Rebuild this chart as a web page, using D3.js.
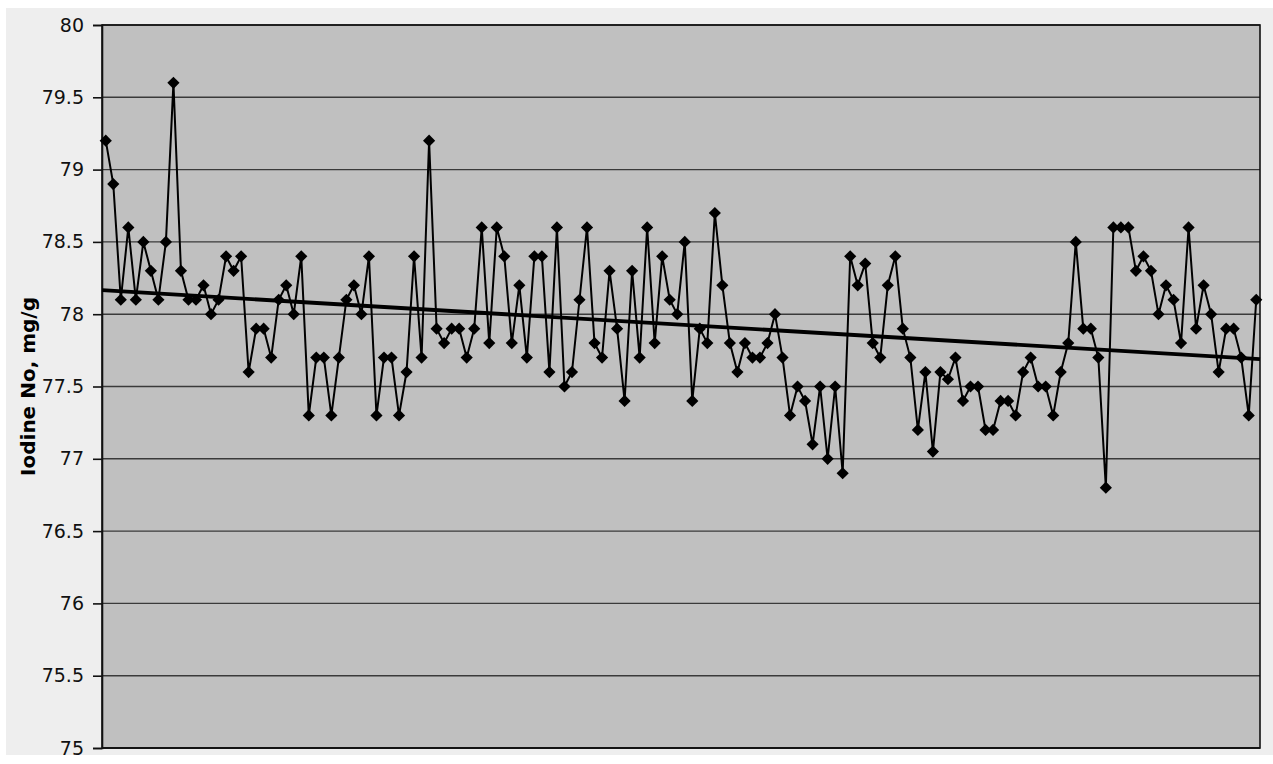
<html>
<head>
	<title>Iodine No</title>
	<meta charset="utf-8">
	<script src="https://d3js.org/d3.v7.min.js"></script>
	<style>
		body { margin: 0; background: #ffffff; }
	</style>
</head>
<body>
	<script type="text/javascript">
		// iodine number of each sample (154 samples)
		var values = [
			79.2, 78.9, 78.1, 78.6, 78.1, 78.5, 78.3, 78.1, 78.5, 79.6,
			78.3, 78.1, 78.1, 78.2, 78.0, 78.1, 78.4, 78.3, 78.4, 77.6,
			77.9, 77.9, 77.7, 78.1, 78.2, 78.0, 78.4, 77.3, 77.7, 77.7,
			77.3, 77.7, 78.1, 78.2, 78.0, 78.4, 77.3, 77.7, 77.7, 77.3,
			77.6, 78.4, 77.7, 79.2, 77.9, 77.8, 77.9, 77.9, 77.7, 77.9,
			78.6, 77.8, 78.6, 78.4, 77.8, 78.2, 77.7, 78.4, 78.4, 77.6,
			78.6, 77.5, 77.6, 78.1, 78.6, 77.8, 77.7, 78.3, 77.9, 77.4,
			78.3, 77.7, 78.6, 77.8, 78.4, 78.1, 78.0, 78.5, 77.4, 77.9,
			77.8, 78.7, 78.2, 77.8, 77.6, 77.8, 77.7, 77.7, 77.8, 78.0,
			77.7, 77.3, 77.5, 77.4, 77.1, 77.5, 77.0, 77.5, 76.9, 78.4,
			78.2, 78.35, 77.8, 77.7, 78.2, 78.4, 77.9, 77.7, 77.2, 77.6,
			77.05, 77.6, 77.55, 77.7, 77.4, 77.5, 77.5, 77.2, 77.2, 77.4,
			77.4, 77.3, 77.6, 77.7, 77.5, 77.5, 77.3, 77.6, 77.8, 78.5,
			77.9, 77.9, 77.7, 76.8, 78.6, 78.6, 78.6, 78.3, 78.4, 78.3,
			78.0, 78.2, 78.1, 77.8, 78.6, 77.9, 78.2, 78.0, 77.6, 77.9,
			77.9, 77.7, 77.3, 78.1
		]
		var samples = d3.range(1, values.length + 1) // sample numbers (no labels shown)
		var yTicks = [75, 75.5, 76, 76.5, 77, 77.5, 78, 78.5, 79, 79.5, 80]
		var yTitle = "Iodine No, mg/g"

		var width = 1273
		var height = 764
		var plot = {left: 102, top: 25, right: 1260, bottom: 748}

		var svg = d3.select("body").append("svg")
			.attr("width", width)
			.attr("height", height)

		// chart area background
		svg.append("rect")
			.attr("x", 6).attr("y", 8)
			.attr("width", width - 6).attr("height", 755 - 8)
			.attr("fill", "#eeeeee")

		// x: one category per sample, point in the middle of its slot
		var x = d3.scaleLinear()
			.domain([0.5, samples.length + 0.5])
			.range([plot.left, plot.right])
		var y = d3.scaleLinear()
			.domain([75, 80])
			.range([plot.bottom, plot.top])

		svg.append("rect")
			.attr("x", plot.left).attr("y", plot.top)
			.attr("width", plot.right - plot.left)
			.attr("height", plot.bottom - plot.top)
			.attr("fill", "#c0c0c0")

		// gridlines
		svg.append("g")
			.selectAll("line")
			.data(yTicks)
			.enter()
			.append("line")
			.attr("x1", plot.left).attr("x2", plot.right)
			.attr("y1", d => y(d)).attr("y2", d => y(d))
			.attr("stroke", "#3a3a3a")
			.attr("stroke-width", 1.4)

		// frame
		svg.append("rect")
			.attr("x", plot.left).attr("y", plot.top)
			.attr("width", plot.right - plot.left)
			.attr("height", plot.bottom - plot.top)
			.attr("fill", "none")
			.attr("stroke", "#111")
			.attr("stroke-width", 1.6)

		// y axis with outer ticks
		var yAxis = svg.append("g")
			.attr("transform", "translate(" + plot.left + ",0)")
			.call(d3.axisLeft(y).tickValues(yTicks).tickSize(9).tickPadding(9).tickFormat(d3.format("")))
		yAxis.select(".domain").attr("stroke", "#111").attr("stroke-width", 1.6)
		yAxis.selectAll(".tick line").attr("stroke", "#111").attr("stroke-width", 1.6)
		yAxis.selectAll("text")
			.attr("font-family", "DejaVu Sans, Verdana, sans-serif")
			.attr("font-size", 19)
			.attr("fill", "#111")

		// bottom axis line
		svg.append("line")
			.attr("x1", plot.left).attr("x2", plot.right)
			.attr("y1", plot.bottom).attr("y2", plot.bottom)
			.attr("stroke", "#111").attr("stroke-width", 1.6)

		// axis title
		svg.append("text")
			.attr("transform", "translate(35," + ((plot.top + plot.bottom) / 2) + ") rotate(-90)")
			.attr("text-anchor", "middle")
			.attr("font-family", "DejaVu Sans, Verdana, sans-serif")
			.attr("font-weight", "bold")
			.attr("font-size", 20)
			.attr("fill", "#000")
			.text(yTitle)

		// series line
		var line = d3.line()
			.x((d, i) => x(samples[i]))
			.y(d => y(d))
		svg.append("path")
			.datum(values)
			.attr("d", line)
			.attr("fill", "none")
			.attr("stroke", "#000")
			.attr("stroke-width", 2)

		// linear trendline (least squares), drawn across the whole plot
		var mx = d3.mean(samples), my = d3.mean(values)
		var sxy = d3.sum(samples, (s, i) => (s - mx) * (values[i] - my))
		var sxx = d3.sum(samples, s => (s - mx) * (s - mx))
		var slope = sxy / sxx
		var icpt = my - slope * mx
		var trendX = x.domain()
		svg.append("line")
			.attr("x1", x(trendX[0])).attr("y1", y(icpt + slope * trendX[0]))
			.attr("x2", x(trendX[1])).attr("y2", y(icpt + slope * trendX[1]))
			.attr("stroke", "#000")
			.attr("stroke-width", 3.8)

		// diamond markers
		svg.append("g")
			.selectAll("path")
			.data(values)
			.enter()
			.append("path")
			.attr("d", d3.symbol().type(d3.symbolDiamond2).size(95))
			.attr("transform", (d, i) => "translate(" + x(samples[i]) + "," + y(d) + ")")
			.attr("fill", "#000")
	</script>
</body>
</html>
